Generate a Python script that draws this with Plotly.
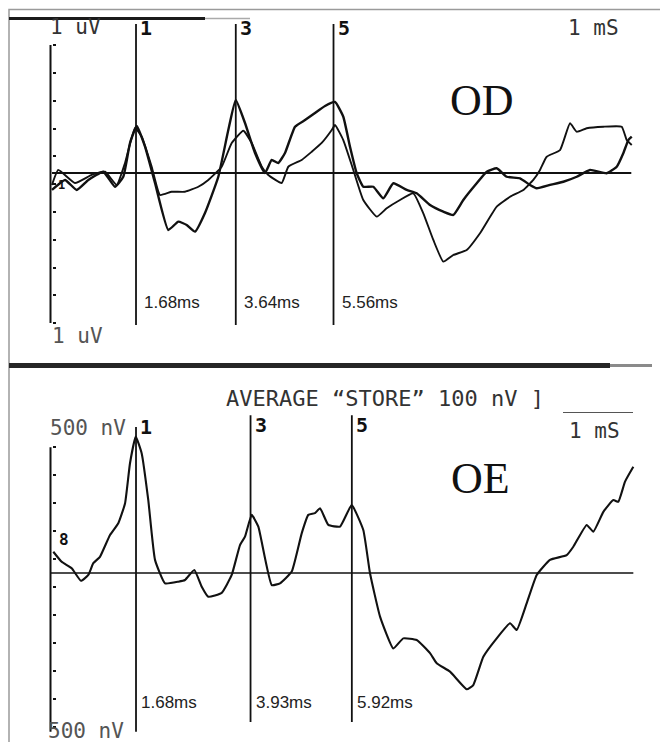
import plotly.graph_objects as go

# ---------------- data ----------------
# OD (right ear): two superimposed recordings, time in ms, amplitude in uV
od_a_t = [0.029, 0.285, 0.515, 0.743, 1.037, 1.267, 1.430, 1.562, 1.694, 1.857, 2.053, 2.314,
          2.511, 2.676, 2.839, 3.035, 3.297, 3.493, 3.639, 3.821, 4.018, 4.214, 4.346, 4.475,
          4.607, 4.804, 5.000, 5.196, 5.393, 5.589, 5.752, 5.884, 6.016, 6.145, 6.342, 6.538,
          6.735, 6.998, 7.194, 7.456, 7.717, 7.914, 8.110, 8.373, 8.570, 8.766, 8.963, 9.224,
          9.420, 9.552, 9.813, 10.075, 10.338, 10.599, 10.927, 11.124, 11.253, 11.352, 11.419]
od_a_uv = [-0.122, -0.050, -0.122, -0.050, 0.009, -0.099, -0.027, 0.216, 0.338, 0.189, -0.072, -0.410,
           -0.350, -0.374, -0.422, -0.288, -0.027, 0.309, 0.525, 0.360, 0.144, 0.000, 0.094, 0.072,
           0.144, 0.333, 0.381, 0.432, 0.482, 0.511, 0.405, 0.189, -0.002, -0.099, -0.099, -0.182,
           -0.074, -0.122, -0.146, -0.230, -0.278, -0.302, -0.194, -0.074, 0.009, 0.034, -0.027, -0.038,
           -0.086, -0.110, -0.086, -0.063, -0.027, 0.022, -0.002, 0.045, 0.142, 0.237, 0.261]

od_b_t = [0.029, 0.153, 0.481, 0.809, 1.071, 1.301, 1.464, 1.660, 1.792, 1.988, 2.151, 2.381,
          2.642, 2.904, 3.100, 3.363, 3.560, 3.788, 3.953, 4.149, 4.279, 4.542, 4.672, 4.935,
          5.132, 5.328, 5.525, 5.589, 5.752, 5.949, 6.145, 6.409, 6.605, 6.866, 7.128, 7.324,
          7.521, 7.717, 7.914, 8.177, 8.438, 8.766, 9.028, 9.289, 9.485, 9.617, 9.748, 10.010,
          10.206, 10.338, 10.534, 10.861, 11.222, 11.320, 11.419]
od_b_uv = [-0.086, 0.022, -0.072, -0.014, 0.009, -0.086, 0.072, 0.324, 0.261, 0.045, -0.158, -0.135,
           -0.135, -0.099, -0.050, 0.045, 0.216, 0.304, 0.216, 0.045, -0.014, -0.072, 0.045, 0.094,
           0.153, 0.216, 0.309, 0.345, 0.237, 0.022, -0.194, -0.314, -0.254, -0.194, -0.146, -0.290,
           -0.482, -0.638, -0.590, -0.554, -0.434, -0.242, -0.171, -0.122, -0.050, 0.022, 0.117, 0.165,
           0.358, 0.297, 0.322, 0.333, 0.333, 0.237, 0.201]

# OE (left ear): one recording, time in ms, amplitude in nV
oe_t = [0.055, 0.220, 0.417, 0.599, 0.743, 0.841, 0.972, 1.169, 1.332, 1.464, 1.562, 1.674,
        1.792, 1.921, 2.053, 2.250, 2.511, 2.642, 2.825, 2.971, 3.100, 3.363, 3.560, 3.723,
        3.821, 3.953, 4.083, 4.346, 4.509, 4.739, 4.935, 5.065, 5.196, 5.295, 5.458, 5.688,
        5.917, 6.145, 6.277, 6.474, 6.735, 6.931, 7.194, 7.456, 7.587, 7.849, 8.177, 8.306,
        8.503, 8.766, 9.028, 9.159, 9.356, 9.552, 9.813, 10.141, 10.271, 10.534, 10.664, 10.861,
        11.057, 11.155, 11.287, 11.450]
oe_nv = [76, 40, 17, -28, -7, 35, 58, 136, 178, 249, 393, 488,
         428, 261, 47, -37, -31, -25, 11, -49, -85, -71, -7, 100,
         130, 208, 166, -43, -37, 5, 142, 208, 214, 232, 172, 166,
         243, 154, -1, -156, -270, -234, -240, -287, -323, -353, -416, -401,
         -300, -234, -180, -204, -108, -7, 47, 64, 94, 172, 148, 219,
         261, 255, 327, 380]

peak_names = ["1", "3", "5"]
od_latency_ms = [1.68, 3.64, 5.56]
oe_latency_ms = [1.68, 3.93, 5.92]
od_latency_labels = ["1.68ms", "3.64ms", "5.56ms"]
oe_latency_labels = ["1.68ms", "3.93ms", "5.92ms"]

od_tick_uv = [0.92, 0.72, 0.52, 0.32, 0.12, -0.08, -0.28, -0.48, -0.68, -0.88, -1.08]
oe_tick_nv = [450, 350, 250, 150, 50, -50, -150, -250, -350, -450, -550]
od_axis_span = [0.92, -1.08]      # uV
oe_axis_span = [450, -568]        # nV
od_marker_span = [1.072, -1.094]  # uV, extent of the latency cursors
oe_marker_span = [[523, -568], [565, -533], [565, -533]]  # nV
od_baseline_ms = [0.03, 11.41]
oe_baseline_ms = [0.01, 11.45]

# ---------------- styling ----------------
W, H = 660, 742
MONO = "DejaVu Sans Mono"
SANS = "Liberation Sans"
SERIF = "Liberation Serif"
INK = "#111111"
PRINT = "#333333"


def px(x):
    return x / W


def py(y):
    return 1 - y / H


fig = go.Figure()

fig.add_trace(go.Scatter(x=od_a_t, y=od_a_uv, mode="lines", xaxis="x", yaxis="y",
                         line=dict(color=INK, width=2.4, shape="spline", smoothing=0.4),
                         showlegend=False, hoverinfo="skip"))
fig.add_trace(go.Scatter(x=od_b_t, y=od_b_uv, mode="lines", xaxis="x", yaxis="y",
                         line=dict(color=INK, width=1.9, shape="spline", smoothing=0.4),
                         showlegend=False, hoverinfo="skip"))
fig.add_trace(go.Scatter(x=oe_t, y=oe_nv, mode="lines", xaxis="x2", yaxis="y2",
                         line=dict(color=INK, width=2.1, shape="spline", smoothing=0.4),
                         showlegend=False, hoverinfo="skip"))

shapes = []
ann = []

# axis lines and baselines
shapes.append(dict(type="line", xref="x", yref="y", x0=0, x1=0, y0=od_axis_span[0], y1=od_axis_span[1],
                   line=dict(color=INK, width=2)))
shapes.append(dict(type="line", xref="x2", yref="y2", x0=0, x1=0, y0=oe_axis_span[0], y1=oe_axis_span[1],
                   line=dict(color=INK, width=2)))
shapes.append(dict(type="line", xref="x", yref="y", x0=od_baseline_ms[0], x1=od_baseline_ms[1], y0=0, y1=0,
                   line=dict(color=INK, width=2.2)))
shapes.append(dict(type="line", xref="x2", yref="y2", x0=oe_baseline_ms[0], x1=oe_baseline_ms[1], y0=0, y1=0,
                   line=dict(color=INK, width=1.4)))

# latency cursors + labels
for name, lat, lab in zip(peak_names, od_latency_ms, od_latency_labels):
    shapes.append(dict(type="line", xref="x", yref="y", x0=lat, x1=lat,
                       y0=od_marker_span[0], y1=od_marker_span[1], line=dict(color=INK, width=1.8)))
    ann.append(dict(x=lat, y=1.04, xref="x", yref="y", text=name, showarrow=False, xanchor="left",
                    xshift=2, font=dict(family=MONO, size=20, color=INK, weight="bold")))
    ann.append(dict(x=lat, y=-0.935, xref="x", yref="y", text=lab, showarrow=False, xanchor="left",
                    xshift=6, font=dict(family=SANS, size=17, color="#222222")))

oe_name_y = [522, 528, 528]
for name, lat, lab, span, ny in zip(peak_names, oe_latency_ms, oe_latency_labels, oe_marker_span, oe_name_y):
    shapes.append(dict(type="line", xref="x2", yref="y2", x0=lat, x1=lat,
                       y0=span[0], y1=span[1], line=dict(color=INK, width=1.8)))
    ann.append(dict(x=lat, y=ny, xref="x2", yref="y2", text=name, showarrow=False, xanchor="left",
                    xshift=2, font=dict(family=MONO, size=20, color=INK, weight="bold")))
    ann.append(dict(x=lat, y=-462, xref="x2", yref="y2", text=lab, showarrow=False, xanchor="left",
                    xshift=3, font=dict(family=SANS, size=17, color="#222222")))

# scanned-page decorations
shapes.append(dict(type="rect", xref="paper", yref="paper", x0=px(9), x1=px(680), y0=py(760), y1=py(9.5),
                   line=dict(color="#9a9a9a", width=1.5), fillcolor="rgba(0,0,0,0)"))
shapes.append(dict(type="line", xref="paper", yref="paper", x0=px(9), x1=px(205), y0=py(18.5), y1=py(18.5),
                   line=dict(color="#1a1a1a", width=3)))
shapes.append(dict(type="line", xref="paper", yref="paper", x0=px(205), x1=px(250), y0=py(18.5), y1=py(18.5),
                   line=dict(color="#aaaaaa", width=1.5)))
shapes.append(dict(type="line", xref="paper", yref="paper", x0=px(9), x1=px(610), y0=py(365.5), y1=py(365.5),
                   line=dict(color="#262626", width=5)))
shapes.append(dict(type="line", xref="paper", yref="paper", x0=px(610), x1=px(652), y0=py(365.5), y1=py(365.5),
                   line=dict(color="#8a8a8a", width=3)))
shapes.append(dict(type="line", xref="paper", yref="paper", x0=px(563), x1=px(633), y0=py(412.5), y1=py(412.5),
                   line=dict(color="#555555", width=1.2)))


def txt(x, y, s, size, family=MONO, color=PRINT, anchor="left", weight="normal"):
    ann.append(dict(x=px(x), y=py(y), xref="paper", yref="paper", text=s, showarrow=False,
                    xanchor=anchor, yanchor="middle",
                    font=dict(family=family, size=size, color=color, weight=weight)))


txt(48, 27, "1 uV", 21)
txt(566, 28, "1 mS", 21)
txt(50, 336, "1 uV", 21, color="#555555")
txt(482, 100, "OD", 44, family=SERIF, color=INK, anchor="center")
txt(224, 398, "AVERAGE “STORE” 100 nV ]", 22)
txt(567, 431, "1 mS", 21)
txt(48, 428, "500 nV", 21, color="#555555")
txt(46, 731, "500 nV", 21, color="#555555")
txt(480, 478, "OE", 44, family=SERIF, color=INK, anchor="center")
txt(56, 185, "1", 12, color=INK, weight="bold")
txt(57, 539, "8", 16, color=INK, weight="bold")

X_RANGE = [-0.992, 11.974]
common_x = dict(range=X_RANGE, visible=False, fixedrange=True)
common_y = dict(showgrid=False, zeroline=False, showline=False, showticklabels=False,
                ticks="inside", ticklen=3, tickwidth=2, tickcolor=INK, anchor="free",
                position=px(51.5), fixedrange=True)

fig.update_layout(
    width=W, height=H,
    margin=dict(l=0, r=0, t=0, b=0),
    paper_bgcolor="white", plot_bgcolor="white",
    showlegend=False,
    xaxis=dict(domain=[0, 1], anchor="y", **common_x),
    xaxis2=dict(domain=[0, 1], anchor="y2", **common_x),
    yaxis=dict(domain=[0.5, 1], range=[-1.4245, 1.2446], tickvals=od_tick_uv, **common_y),
    yaxis2=dict(domain=[0, 0.5], range=[-604.9, 723.0], tickvals=oe_tick_nv, **common_y),
    shapes=shapes,
    annotations=ann,
)

fig.write_html("out.html", config={"displayModeBar": False},
               post_script="document.body.style.margin='0';document.body.style.overflow='hidden';")
